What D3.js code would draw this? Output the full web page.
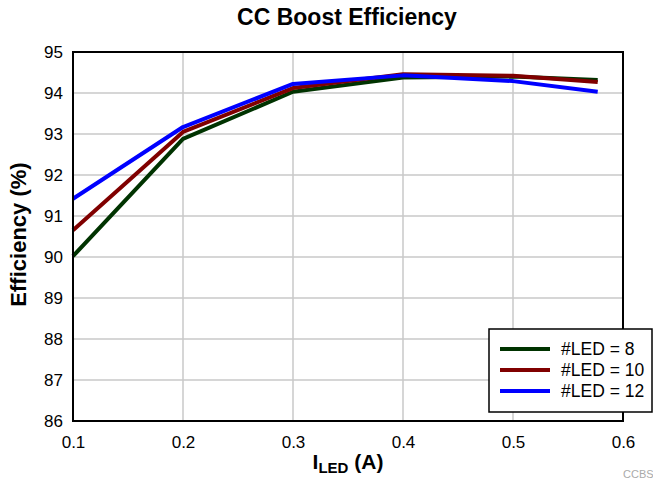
<!DOCTYPE html>
<html><head><meta charset="utf-8">
<script src="https://cdn.jsdelivr.net/npm/d3@7"></script>
<style>body{margin:0;background:#fff;} svg{display:block;font-family:"Liberation Sans",Arial,sans-serif;}</style>
</head><body>
<svg id="c" width="653" height="480"></svg>
<script>
const current = [0.1, 0.2, 0.3, 0.4, 0.5, 0.577];
const led8 = [90.02, 92.88, 94.03, 94.38, 94.4, 94.32];
const led10 = [90.65, 93.05, 94.12, 94.46, 94.42, 94.27];
const led12 = [91.42, 93.17, 94.22, 94.43, 94.29, 94.03];
const seriesNames = ["#LED = 8", "#LED = 10", "#LED = 12"];
const seriesColors = ["#003300", "#800000", "#0000ff"];
const xTicks = [0.1, 0.2, 0.3, 0.4, 0.5, 0.6];
const yTicks = [86, 87, 88, 89, 90, 91, 92, 93, 94, 95];

const svg = d3.select("#c");
const L = 73, R = 623, T = 52, B = 421;
const x = d3.scaleLinear().domain([0.1, 0.6]).range([L, R]);
const y = d3.scaleLinear().domain([86, 95]).range([B, T]);

// grid
svg.append("g").selectAll("line").data(xTicks.slice(1, -1)).join("line")
  .attr("x1", d => x(d)).attr("x2", d => x(d)).attr("y1", T).attr("y2", B)
  .attr("stroke", "#c8c8c8").attr("stroke-width", 1.5);
svg.append("g").selectAll("line").data(yTicks.slice(1, -1)).join("line")
  .attr("y1", d => y(d)).attr("y2", d => y(d)).attr("x1", L).attr("x2", R)
  .attr("stroke", "#c8c8c8").attr("stroke-width", 1.5);

// axes (labels only)
const xAxis = svg.append("g").attr("transform", `translate(0,${B})`)
  .call(d3.axisBottom(x).tickValues(xTicks).tickFormat(d3.format(".1f")).tickSize(0).tickPadding(15));
const yAxis = svg.append("g").attr("transform", `translate(${L},0)`)
  .call(d3.axisLeft(y).tickValues(yTicks).tickFormat(d3.format("d")).tickSize(0).tickPadding(10));
[xAxis, yAxis].forEach(a => {
  a.select(".domain").remove();
  a.selectAll("text").attr("font-size", 17).attr("fill", "#000").attr("font-family", "Liberation Sans, Arial, sans-serif");
});

// lines
const data = [led8, led10, led12];
const line = d3.line().x((d, i) => x(current[i])).y(d => y(d));
data.forEach((s, k) => {
  svg.append("path").datum(s).attr("d", line).attr("fill", "none")
    .attr("stroke", seriesColors[k]).attr("stroke-width", 4).attr("stroke-linejoin", "round");
});

// border
svg.append("rect").attr("x", L).attr("y", T).attr("width", R - L).attr("height", B - T)
  .attr("fill", "none").attr("stroke", "#000").attr("stroke-width", 2);

// title
svg.append("text").attr("x", 347).attr("y", 25).attr("text-anchor", "middle")
  .attr("font-size", 23).attr("font-weight", "bold").text("CC Boost Efficiency");

// y label
svg.append("text").attr("transform", `translate(26,${(T + B) / 2 - 2}) rotate(-90)`)
  .attr("text-anchor", "middle").attr("font-size", 22).attr("font-weight", "bold").text("Efficiency (%)");

// x label
const xl = svg.append("text").attr("x", 348).attr("y", 469).attr("text-anchor", "middle")
  .attr("font-size", 21).attr("font-weight", "bold");
xl.append("tspan").text("I");
xl.append("tspan").attr("font-size", 15).attr("dy", 4).text("LED");
xl.append("tspan").attr("dy", -4).text(" (A)");

// legend
const lg = svg.append("g");
lg.append("rect").attr("x", 489).attr("y", 329).attr("width", 163).attr("height", 83)
  .attr("fill", "#fff").attr("stroke", "#000").attr("stroke-width", 1.5);
seriesNames.forEach((n, k) => {
  const yy = 349 + k * 21;
  lg.append("line").attr("x1", 500).attr("x2", 550).attr("y1", yy).attr("y2", yy)
    .attr("stroke", seriesColors[k]).attr("stroke-width", 4);
  lg.append("text").attr("x", 561).attr("y", yy + 6).attr("font-size", 17.5).text(n);
});

// watermark
svg.append("text").attr("x", 623).attr("y", 478).attr("font-size", 11).attr("fill", "#aaa").text("CCBS");
</script>
</body></html>
